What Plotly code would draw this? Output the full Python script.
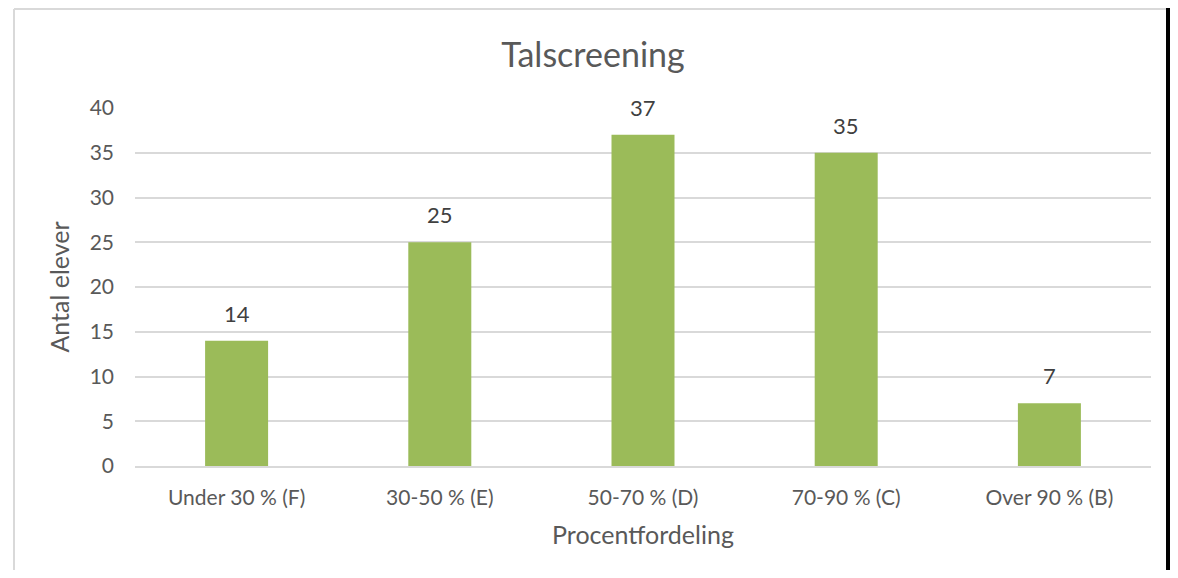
import plotly.graph_objects as go

categories = ["Under 30 % (F)", "30-50 % (E)", "50-70 % (D)", "70-90 % (C)", "Over 90 % (B)"]
values = [14, 25, 37, 35, 7]
y_ticks = [0, 5, 10, 15, 20, 25, 30, 35, 40]

OFF = 8  # body margin of the page
W, H = 1178 - OFF, 578 - 2 * OFF
L, R, T = 135 - OFF, 27, 108 - OFF
B = H - (466 - OFF)
pw, ph = W - L - R, H - T - B

def px_x(p):
    return (p - OFF - L) / pw

def px_y(p):
    return (H - B - (p - OFF)) / ph

font = "Lato, 'Open Sans', sans-serif"

fig = go.Figure(go.Bar(
    x=categories, y=values,
    marker=dict(color="#9bbb59", line=dict(width=0)),
))

for c, v in zip(categories, values):
    fig.add_annotation(x=c, y=v, text=str(v), showarrow=False, yanchor="bottom", yshift=12,
                       font=dict(family=font, size=22, color="#404040"))

fig.update_layout(
    width=W, height=H,
    margin=dict(l=L, r=R, t=T, b=B),
    paper_bgcolor="white", plot_bgcolor="white",
    bargap=0.69,
    showlegend=False,
    title=dict(text="Talscreening", x=0.5, xanchor="center", y=1 - (55 - OFF) / H, yanchor="middle",
               font=dict(family=font, size=34, color="#595959")),
    xaxis=dict(
        title=dict(text="Procentfordeling", font=dict(family=font, size=25, color="#595959"), standoff=19),
        tickfont=dict(family=font, size=21, color="#595959"),
        showline=True, linecolor="#d9d9d9", linewidth=1.5,
        ticks="", showgrid=False, ticklabelstandoff=12,
    ),
    yaxis=dict(
        title=dict(text="Antal elever", font=dict(family=font, size=25, color="#595959"), standoff=12),
        tickfont=dict(family=font, size=21, color="#595959"),
        range=[0, 40], tickvals=y_ticks,
        showgrid=True, gridcolor="#d9d9d9", gridwidth=1.5,
        zeroline=False, ticks="", ticklen=0, ticklabelstandoff=20,
    ),
    shapes=[
        dict(type="line", xref="paper", yref="paper", x0=px_x(14), x1=px_x(14), y0=px_y(9), y1=px_y(578),
             line=dict(color="#d9d9d9", width=2)),
        dict(type="line", xref="paper", yref="paper", x0=px_x(14), x1=px_x(1170), y0=px_y(9), y1=px_y(9),
             line=dict(color="#d9d9d9", width=2)),
        dict(type="line", xref="paper", yref="paper", x0=px_x(14), x1=px_x(1170), y0=px_y(6), y1=px_y(6),
             line=dict(color="#eeeeee", width=4)),
        dict(type="rect", xref="paper", yref="paper", x0=px_x(1166), x1=px_x(1170), y0=px_y(8), y1=px_y(578),
             fillcolor="black", line=dict(width=0)),
    ],
)

fig.write_html("out.html")
